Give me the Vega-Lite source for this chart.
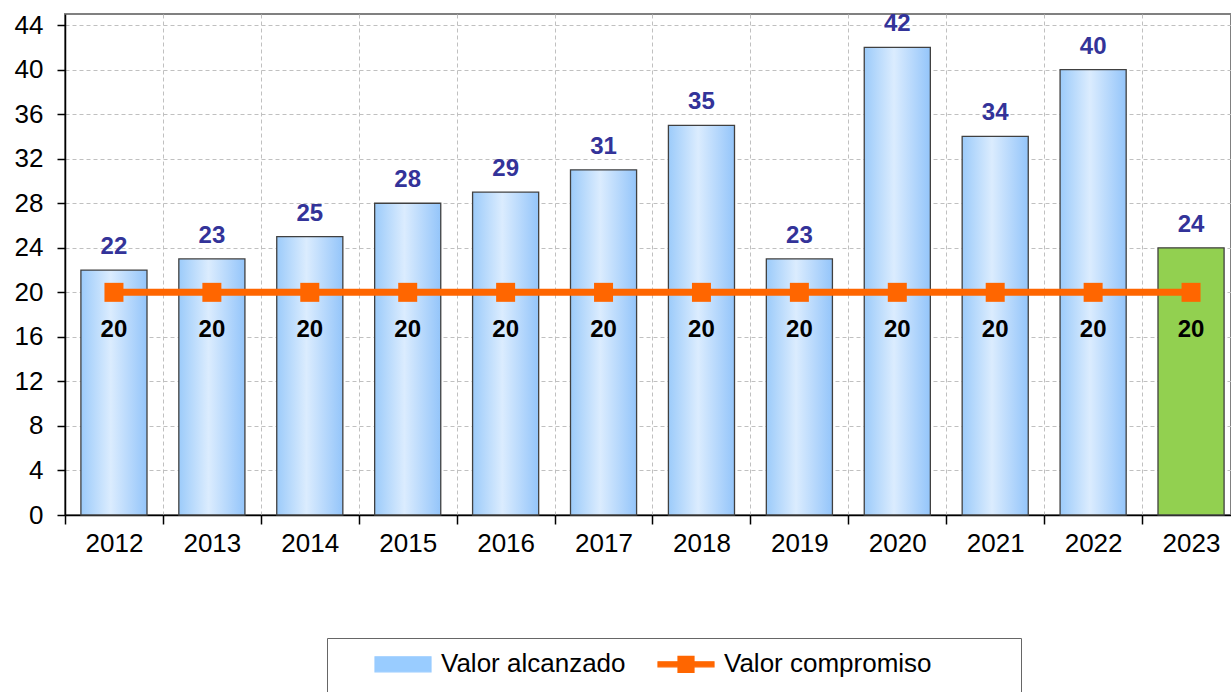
{
  "$schema": "https://vega.github.io/schema/vega-lite/v6.json",
  "width": 1166,
  "height": 501,
  "autosize": {"type": "none"},
  "padding": {"left": 65, "top": 14, "right": 0, "bottom": 177},
  "background": "white",
  "config": {
    "font": "Liberation Sans",
    "view": {"stroke": "#808080", "strokeWidth": 2}
  },
  "data": {
    "values": [
      {"year": "2012", "alcanzado": 22, "compromiso": 20},
      {"year": "2013", "alcanzado": 23, "compromiso": 20},
      {"year": "2014", "alcanzado": 25, "compromiso": 20},
      {"year": "2015", "alcanzado": 28, "compromiso": 20},
      {"year": "2016", "alcanzado": 29, "compromiso": 20},
      {"year": "2017", "alcanzado": 31, "compromiso": 20},
      {"year": "2018", "alcanzado": 35, "compromiso": 20},
      {"year": "2019", "alcanzado": 23, "compromiso": 20},
      {"year": "2020", "alcanzado": 42, "compromiso": 20},
      {"year": "2021", "alcanzado": 34, "compromiso": 20},
      {"year": "2022", "alcanzado": 40, "compromiso": 20},
      {"year": "2023", "alcanzado": 24, "compromiso": 20}
    ]
  },
  "encoding": {
    "x": {
      "field": "year",
      "type": "ordinal",
      "title": null,
      "scale": {"paddingInner": 0.325, "paddingOuter": 0.1625, "range": [0, 1175]},
      "axis": {
        "tickOffset": -49,
        "labelOffset": 49,
        "labelAngle": 0,
        "labelFontSize": 26,
        "labelColor": "black",
        "labelPadding": 6,
        "tickSize": 9,
        "tickColor": "black",
        "tickWidth": 1.5,
        "domainColor": "black",
        "domainWidth": 1.5,
        "grid": true,
        "gridColor": "#c0c0c0",
        "gridDash": [4, 3],
        "gridWidth": 1
      }
    }
  },
  "layer": [
    {
      "transform": [{"filter": "datum.year != '2023'"}],
      "mark": {
        "type": "bar",
        "stroke": "#404040",
        "strokeWidth": 1.3,
        "fill": {
          "gradient": "linear",
          "x1": 0, "y1": 0, "x2": 1, "y2": 0,
          "stops": [
            {"offset": 0, "color": "#9ccbfa"},
            {"offset": 0.45, "color": "#dbecfe"},
            {"offset": 1, "color": "#94c5fa"}
          ]
        }
      },
      "encoding": {
        "y": {
          "field": "alcanzado",
          "type": "quantitative",
          "title": null,
          "scale": {"domain": [0, 45], "nice": false},
          "axis": {
            "values": [0, 4, 8, 12, 16, 20, 24, 28, 32, 36, 40, 44],
            "labelFontSize": 26,
            "labelColor": "black",
            "labelPadding": 14,
            "tickSize": 8,
            "tickColor": "black",
            "tickWidth": 1.5,
            "domainColor": "black",
            "domainWidth": 1.5,
            "grid": true,
            "gridColor": "#c0c0c0",
            "gridDash": [4, 3],
            "gridWidth": 1
          }
        }
      }
    },
    {
      "transform": [{"filter": "datum.year == '2023'"}],
      "mark": {"type": "bar", "stroke": "#404040", "strokeWidth": 1.3, "fill": "#92d050"},
      "encoding": {
        "y": {"field": "alcanzado", "type": "quantitative"}
      }
    },
    {
      "mark": {
        "type": "line",
        "strokeWidth": 7,
        "point": {"shape": "square", "size": 361, "filled": true, "opacity": 1}
      },
      "encoding": {
        "y": {"field": "compromiso", "type": "quantitative"},
        "color": {
          "datum": "Valor compromiso",
          "type": "nominal",
          "scale": {"domain": ["Valor alcanzado", "Valor compromiso"], "range": ["#99ccff", "#ff6600"]},
          "legend": {
            "orient": "none",
            "legendX": 262,
            "legendY": 624,
            "direction": "horizontal",
            "title": " ",
            "titleOrient": "left",
            "titleFontSize": 10,
            "titlePadding": 50,
            "padding": 10,
            "strokeColor": "#666666",
            "fillColor": "white",
            "symbolSize": 900,
            "labelFontSize": 26,
            "labelColor": "black",
            "labelOffset": 22,
            "labelLimit": 600,
            "columnPadding": 29,
            "labelExpr": "datum.label === 'Valor compromiso' ? '\u00a0\u00a0Valor compromiso' : datum.label",
            "encode": {
              "symbols": {
                "update": {
                  "shape": [
                    {"test": "datum.value === 'Valor alcanzado'", "value": "M-1.867,-0.5H1.867V0.5H-1.867Z M0,2.6Z"},
                    {"value": "M-1.867,-0.167H-0.533V-0.533H0.533V-0.167H1.867V0.167H0.533V0.533H-0.533V0.167H-1.867Z M21.5,0Z M0,2.6Z"}
                  ],
                  "fill": [
                    {"test": "datum.value === 'Valor alcanzado'", "value": "#99ccff"},
                    {"value": "#ff6600"}
                  ],
                  "stroke": [
                    {"test": "datum.value === 'Valor alcanzado'", "value": "#555555"},
                    {"value": "transparent"}
                  ],
                  "strokeWidth": {"value": 1.2},
                  "size": {"value": 900},
                  "opacity": {"value": 1},
                  "fillOpacity": {"value": 1}
                }
              }
            }
          }
        }
      }
    },
    {
      "mark": {"type": "text", "dy": -16, "baseline": "alphabetic", "fontSize": 24, "fontWeight": "bold", "color": "#333399"},
      "encoding": {
        "y": {"field": "alcanzado", "type": "quantitative"},
        "text": {"field": "alcanzado", "type": "quantitative"}
      }
    },
    {
      "mark": {"type": "text", "dy": 45, "baseline": "alphabetic", "fontSize": 24, "fontWeight": "bold", "color": "black"},
      "encoding": {
        "y": {"field": "compromiso", "type": "quantitative"},
        "text": {"field": "compromiso", "type": "quantitative"}
      }
    }
  ]
}
